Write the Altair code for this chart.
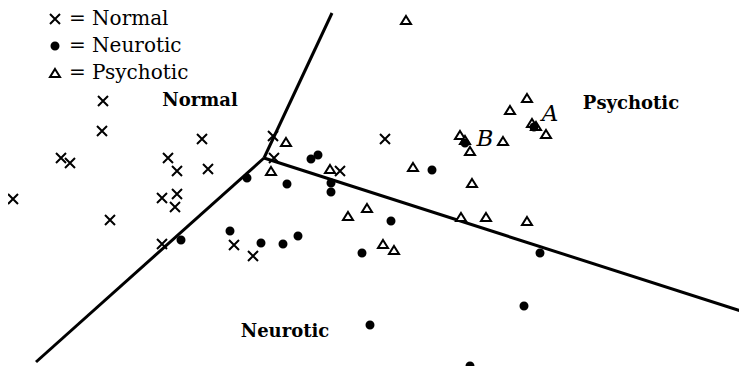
import altair as alt
import pandas as pd

# ---- data (page-pixel units, y downward) ----
normal_x = [103, 102, 61, 70, 13, 110, 168, 177, 202, 208, 162, 177, 175, 162, 234, 253, 273, 274, 340, 385]
normal_y = [101, 131, 158, 163, 199, 220, 158, 171, 139, 169, 198, 194, 207, 244, 245, 256, 136, 158, 171, 139]

neurotic_x = [181, 247, 230, 261, 283, 298, 287, 311, 318, 331, 331, 391, 362, 432, 540, 524, 370, 470, 465, 534]
neurotic_y = [240, 178, 231, 243, 244, 236, 184, 159, 155, 183, 192, 221, 253, 170, 253, 306, 325, 366, 143, 127]

psychotic_x = [406, 286, 271, 330, 413, 367, 348, 383, 394, 472, 461, 486, 527, 460, 465, 470, 503, 510, 527, 532, 536, 546]
psychotic_y = [20, 142, 171, 169, 167, 208, 216, 244, 250, 183, 217, 217, 221, 135, 140, 151, 141, 110, 98, 123, 126, 134]

center_x, center_y = 264, 158
boundary_end_x = [332, 36, 747]
boundary_end_y = [13, 362, 313]

region_labels = ["Normal", "Psychotic", "Neurotic"]
region_label_x = [200, 631, 285]
region_label_y = [101, 104, 332]

case_labels = ["A", "B"]
case_label_x = [550, 485]
case_label_y = [114, 139]

classes = ["Normal", "Neurotic", "Psychotic"]

# ---- tables ----
rows = []
for g, xs_, ys_ in [("Psychotic", psychotic_x, psychotic_y),
                    ("Normal", normal_x, normal_y),
                    ("Neurotic", neurotic_x, neurotic_y)]:
    for a, b in zip(xs_, ys_):
        rows.append({"group": g, "x": a, "y": b})
points = pd.DataFrame(rows)

bounds = pd.DataFrame({"x0": [center_x] * 3, "y0": [center_y] * 3,
                       "x1": boundary_end_x, "y1": boundary_end_y})
regions = pd.DataFrame({"label": region_labels, "x": region_label_x, "y": region_label_y})
cases = pd.DataFrame({"label": case_labels, "x": case_label_x, "y": case_label_y})

FONT = "DejaVu Serif"
xs = alt.Scale(domain=[8, 739])
ys = alt.Scale(domain=[8, 366], reverse=True)

shapes = ["M-1,-1L1,1M-1,1L1,-1",
          "M0.7,0A0.7,0.7 0 1,1 -0.7,0A0.7,0.7 0 1,1 0.7,0Z",
          "M0,-0.8L1,0.8L-1,0.8Z"]
fills = ["black", "black", "white"]
strokes = ["black", "black", "black"]

legend = alt.Legend(title=None, orient="none", legendX=37, legendY=1,
                    labelExpr="'= ' + datum.label", labelFont=FONT, labelFontSize=20,
                    labelColor="black", symbolStrokeColor="black", symbolStrokeWidth=2,
                    symbolSize=100, symbolOpacity=1, rowPadding=7, labelOffset=4, padding=0)

lines = alt.Chart(bounds).mark_rule(strokeWidth=3, color="black").encode(
    x=alt.X("x0:Q", scale=xs, axis=None),
    y=alt.Y("y0:Q", scale=ys, axis=None),
    x2="x1:Q", y2="y1:Q")

pts = alt.Chart(points).mark_point(filled=True, size=100, strokeWidth=2, opacity=1).encode(
    x=alt.X("x:Q", scale=xs, axis=None),
    y=alt.Y("y:Q", scale=ys, axis=None),
    shape=alt.Shape("group:N", scale=alt.Scale(domain=classes, range=shapes), legend=legend),
    fill=alt.Fill("group:N", scale=alt.Scale(domain=classes, range=fills), legend=legend),
    stroke=alt.Stroke("group:N", scale=alt.Scale(domain=classes, range=strokes), legend=legend),
)

region_text = alt.Chart(regions).mark_text(font=FONT, fontSize=18, fontWeight="bold",
                                           color="black", align="center", baseline="middle").encode(
    x=alt.X("x:Q", scale=xs, axis=None), y=alt.Y("y:Q", scale=ys, axis=None), text="label:N")

case_text = alt.Chart(cases).mark_text(font=FONT, fontSize=23, fontStyle="italic",
                                       color="black", align="center", baseline="middle").encode(
    x=alt.X("x:Q", scale=xs, axis=None), y=alt.Y("y:Q", scale=ys, axis=None), text="label:N")

chart = alt.layer(lines, pts, region_text, case_text).properties(
    width=731, height=358, autosize=alt.AutoSizeParams(type="none"), padding=0
).configure_view(stroke=None)

chart.save("out.html", embed_options={"renderer": "svg", "actions": False})
